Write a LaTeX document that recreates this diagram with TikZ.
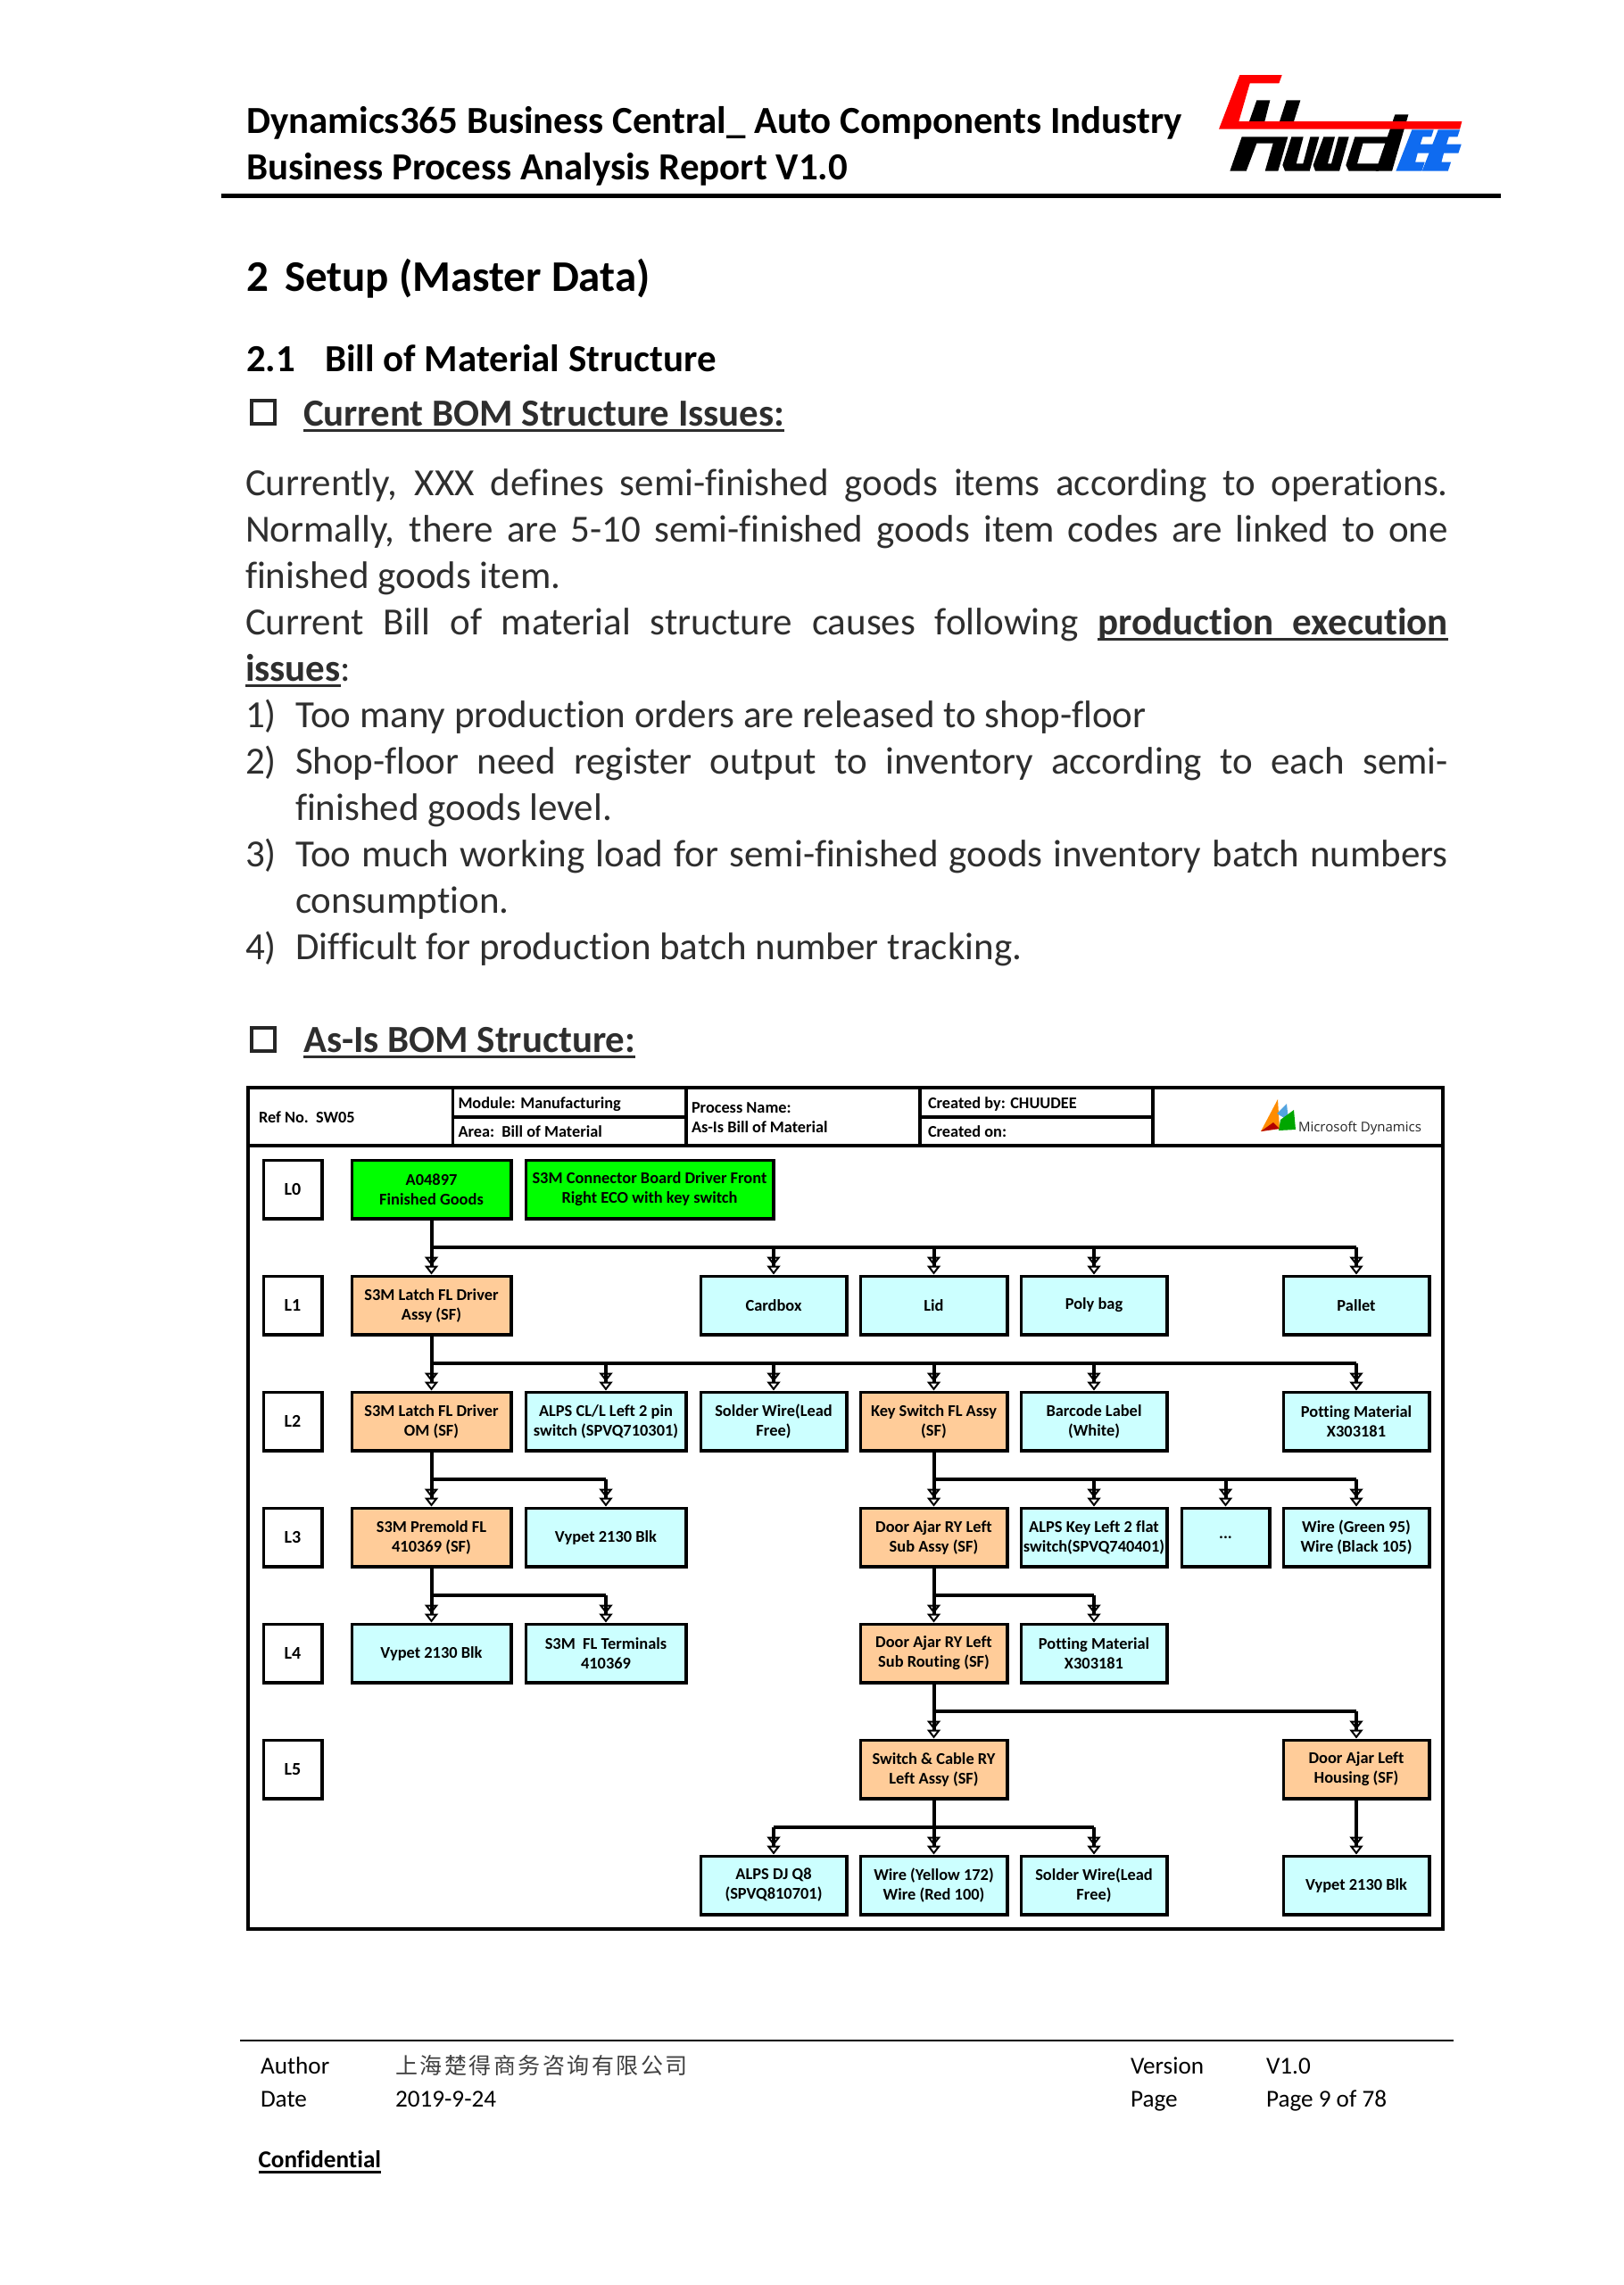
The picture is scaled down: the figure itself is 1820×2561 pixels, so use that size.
\documentclass[tikz,border=0pt]{standalone}
\usepackage{fontspec}
\usepackage{tikz}
\usetikzlibrary{arrows.meta}
\setmainfont[Ligatures={NoCommon}]{Carlito}
\newfontfamily\cjk[LetterSpace=10]{Noto Sans CJK SC}
\newfontfamily\logofont{Open Sans}
\newcommand{\fitline}[2]{\makebox[#1][s]{#2}}
\newcommand{\ulword}[1]{\leavevmode\setbox0\hbox{#1}\rlap{\rule[-3.2pt]{\wd0}{1.5pt}}\box0}
\newcommand{\ulgap}{\leaders\hrule height -1.7pt depth 3.2pt\hskip\fontdimen2\font plus \fontdimen3\font}
\definecolor{fgreen}{HTML}{00FF00}
\definecolor{sforange}{HTML}{FFCC99}
\definecolor{rawcyan}{HTML}{CCFFFF}
\definecolor{logoblue}{HTML}{0F6BF0}
\tikzset{
    textline/.style={anchor=base west, inner sep=0pt, outer sep=0pt},
    bodyline/.style={textline, text=black!82, font=\fontsize{21.5}{26}\selectfont},
    headline/.style={textline, font=\fontsize{21.45}{26}\bfseries\selectfont},
    footline/.style={textline, font=\fontsize{13.6}{16}\selectfont},
    cell/.style={textline, anchor=base west, font=\fontsize{9.15}{11}\bfseries\selectfont},
    chkbox/.style={draw=black!85, line width=2pt, minimum size=13pt, inner sep=0pt},
    block/.style={draw, line width=1.75pt, inner sep=0pt, align=center, minimum height=32.75pt,
        font=\fontsize{9.2}{11}\bfseries\selectfont},
    wd/.style={minimum width=#1*0.5pt-0.25pt},
    level/.style={block, fill=white, wd=66, font=\fontsize{10}{11}\bfseries\selectfont},
    fg/.style={block, fill=fgreen},
    sf/.style={block, fill=sforange},
    raw/.style={block, fill=rawcyan},
    rail/.style={line width=1.75pt},
    stem/.style={line width=2pt},
    branch/.style={stem, -{Triangle[open, length=5pt, width=7.5pt, line width=1pt]
        Triangle[open, length=5pt, width=7.5pt, line width=1pt]}},
    frameline/.style={line width=1.75pt},
}

\begin{document}
\begin{tikzpicture}[x=0.5pt, y=-0.5pt]
    \useasboundingbox[fill=white] (0,0) rectangle (1820,2561);

    % Page header
    \node[headline] (title1) at (276,149.5) {Dynamics365 Business Central\_ Auto Components Industry};
    \node[headline] (title2) at (276,201.5) {Business Process Analysis Report V1.0};
    \draw[line width=2.5pt] (248,219) -- (1682,219);

    % Company logo
    \begin{scope}[shift={(1350,70)}, x=0.1667pt, y=-0.1667pt]
        \fill (175,127) -- (220,127) -- (202,198) -- (150,198) -- cycle;
        \fill (275,127) -- (322,127) -- (300,198) -- (252,198) -- cycle;
        \fill (125,250) -- (280,250) -- (247,365) -- (203,365) -- (230,272) -- (175,272) -- (140,365) -- (85,365) -- cycle;
        \fill (292,250) -- (332,250) -- (308,340) -- (331,340) -- (355,250) -- (385,250)
            -- (353,365) -- (270,365) -- (262,345) -- cycle;
        \fill (400,250) -- (438,250) -- (414,340) -- (426,340) -- (450,250) -- (485,250)
            -- (453,365) -- (372,365) -- (365,345) -- cycle;
        \fill (505,250) -- (620,250) -- (614,272) -- (532,272) -- (513,340) -- (590,340)
            -- (584,365) -- (485,365) -- (475,345) -- cycle;
        \fill (640,175) -- (685,175) -- (630,365) -- (575,365) -- cycle;
        \foreach \dx in {0,88} {
            \fill[logoblue, xshift=\dx*0.1667pt] (697,226) -- (770,226) -- (762,250) -- (733,250) -- (725,275)
                -- (775,275) -- (765,305) -- (716,305) -- (708,335) -- (740,335) -- (730,365) -- (643,365) -- cycle;
        }
        \fill[red] (118,42) -- (260,42) -- (250,70) -- (152,70) -- (115,198) -- (865,198)
            -- (858,224) -- (48,224) -- cycle;
    \end{scope}

    % Headings
    \node[textline, font=\fontsize{24.5}{28}\bfseries\selectfont] (secnum) at (276,326) {2};
    \node[textline, font=\fontsize{24.5}{28}\bfseries\selectfont] (sectitle) at (319,326) {Setup (Master Data)};
    \node[textline, font=\fontsize{21.45}{26}\bfseries\selectfont] (subnum) at (276,416.5) {2.1};
    \node[textline, font=\fontsize{21.45}{26}\bfseries\selectfont] (subtitle) at (364,416.5) {Bill of Material Structure};
    \node[chkbox] (chkissues) at (295,462) {};
    \node[textline, text=black!82, font=\fontsize{21.45}{26}\bfseries\selectfont] (issues) at (340,477.5) {\ulword{Current BOM Structure Issues:}};

    % Body text
    \node[bodyline] (line1) at (275,555.5) {\fitline{674pt}{Currently, XXX defines semi-finished goods items according to operations.}};
    \node[bodyline] (line2) at (275,607.5) {\fitline{674pt}{Normally, there are 5-10 semi-finished goods item codes are linked to one}};
    \node[bodyline] (line3) at (275,659.5) {finished goods item.};
    \node[bodyline] (line4) at (275,711.5) {\fitline{674pt}{Current Bill of material structure causes following \bfseries\ulword{production}\ulgap\ulword{execution}}};
    \node[bodyline] (line5) at (275,763.5) {\textbf{\ulword{issues}}:};
    \node[bodyline] (num1) at (275,815.5) {1)};
    \node[bodyline] (item1) at (331,815.5) {Too many production orders are released to shop-floor};
    \node[bodyline] (num2) at (275,867.5) {2)};
    \node[bodyline] (item2) at (331,867.5) {\fitline{646pt}{Shop-floor need register output to inventory according to each semi-}};
    \node[bodyline] (item2b) at (331,919.5) {finished goods level.};
    \node[bodyline] (num3) at (275,971.5) {3)};
    \node[bodyline] (item3) at (331,971.5) {\fitline{646pt}{Too much working load for semi-finished goods inventory batch numbers}};
    \node[bodyline] (item3b) at (331,1023.5) {consumption.};
    \node[bodyline] (num4) at (275,1075.5) {4)};
    \node[bodyline] (item4) at (331,1075.5) {Difficult for production batch number tracking.};
    \node[chkbox] (chkasis) at (295,1165) {};
    \node[textline, text=black!82, font=\fontsize{21.45}{26}\bfseries\selectfont] (asis) at (340,1179.5) {\ulword{As-Is BOM Structure:}};

    % Frame and title block of the chart
    \draw[frameline] (278,1219) rectangle (1617,2162);
    \draw[frameline] (278,1284) -- (1617,1284);
    \draw[frameline] (507.5,1219) -- (507.5,1284);
    \draw[frameline] (769,1219) -- (769,1284);
    \draw[frameline] (1031,1219) -- (1031,1284);
    \draw[frameline] (1292,1219) -- (1292,1284);
    \draw[frameline] (507.5,1252) -- (769,1252);
    \draw[frameline] (1031,1252) -- (1292,1252);
    \node[cell] (refno) at (290,1258.5) {Ref No.\ \ SW05};
    \node[cell] (module) at (513.5,1242.5) {Module: Manufacturing};
    \node[cell] (area) at (513.5,1274.5) {Area:\ \ Bill of Material};
    \node[cell] (procname) at (775,1247) {Process Name:};
    \node[cell] (procvalue) at (775,1269.5) {As-Is Bill of Material};
    \node[cell] (createdby) at (1040,1242.5) {Created by: CHUUDEE};
    \node[cell] (createdon) at (1040,1274.5) {Created on:};

    % Dynamics logo
    \fill[orange!90!yellow] (1413,1268) -- (1432,1232) -- (1434,1265) -- cycle;
    \fill[cyan!70!blue!70] (1431,1248) -- (1442,1237) -- (1444,1256) -- cycle;
    \fill[green!65!black] (1435,1255) -- (1450,1244) -- (1452,1266) -- (1433,1267) -- cycle;
    \fill[red!70!black] (1413,1268) -- (1427,1258) -- (1434,1265) -- cycle;
    \node[textline, text=black!85, font=\logofont\fontsize{7.5}{10}\selectfont] (dynamics) at (1455,1268) {Microsoft Dynamics};

    % Levels
    \node[level] (L0) at (328,1333) {L0};
    \node[level] (L1) at (328,1463) {L1};
    \node[level] (L2) at (328,1593) {L2};
    \node[level] (L3) at (328,1723) {L3};
    \node[level] (L4) at (328,1853) {L4};
    \node[level] (L5) at (328,1983) {L5};

    % L0 items
    \node[fg, wd=179] (finished) at (483.5,1333) {A04897\\Finished Goods};
    \node[fg, wd=278] (connector) at (728,1333) {S3M Connector Board Driver Front\\Right ECO with key switch};

    % L1 items
    \node[sf, wd=179] (latchassy) at (483.5,1463) {S3M Latch FL Driver\\Assy (SF)};
    \node[raw, wd=164] (cardbox) at (867,1463) {Cardbox};
    \node[raw, wd=165] (lid) at (1046.5,1463) {Lid};
    \node[raw, wd=164] (polybag) at (1226,1463) {Poly bag};
    \node[raw, wd=164] (pallet) at (1520,1463) {Pallet};

    % L2 items
    \node[sf, wd=179] (latchom) at (483.5,1593) {S3M Latch FL Driver\\OM (SF)};
    \node[raw, wd=180] (alpscl) at (679,1593) {ALPS CL/L Left 2 pin\\switch (SPVQ710301)};
    \node[raw, wd=164] (solderA) at (867,1593) {Solder Wire(Lead\\Free)};
    \node[sf, wd=165] (keyswitch) at (1046.5,1593) {Key Switch FL Assy\\(SF)};
    \node[raw, wd=164] (barcode) at (1226,1593) {Barcode Label\\(White)};
    \node[raw, wd=164] (pottingA) at (1520,1593) {Potting Material\\X303181};

    % L3 items
    \node[sf, wd=179] (premold) at (483.5,1723) {S3M Premold FL\\410369 (SF)};
    \node[raw, wd=180] (vypetA) at (679,1723) {Vypet 2130 Blk};
    \node[sf, wd=165] (doorassy) at (1046.5,1723) {Door Ajar RY Left\\Sub Assy (SF)};
    \node[raw, wd=164] (alpskey) at (1226,1723) {ALPS Key Left 2 flat\\switch(SPVQ740401)};
    \node[raw, wd=99] (dots) at (1373.5,1723) {...};
    \node[raw, wd=164] (wiregreen) at (1520,1723) {Wire (Green 95)\\Wire (Black 105)};

    % L4 items
    \node[raw, wd=179] (vypetB) at (483.5,1853) {Vypet 2130 Blk};
    \node[raw, wd=180] (terminals) at (679,1853) {S3M\ \ FL Terminals\\410369};
    \node[sf, wd=165] (doorrouting) at (1046.5,1853) {Door Ajar RY Left\\Sub Routing (SF)};
    \node[raw, wd=164] (pottingB) at (1226,1853) {Potting Material\\X303181};

    % L5 items
    \node[sf, wd=165] (switchcable) at (1046.5,1983) {Switch \& Cable RY\\Left Assy (SF)};
    \node[sf, wd=164] (housing) at (1520,1983) {Door Ajar Left\\Housing (SF)};

    % Bottom row
    \node[raw, wd=164] (alpsdj) at (867,2113) {ALPS DJ Q8\\(SPVQ810701)};
    \node[raw, wd=165] (wireyellow) at (1046.5,2113) {Wire (Yellow 172)\\Wire (Red 100)};
    \node[raw, wd=164] (solderB) at (1226,2113) {Solder Wire(Lead\\Free)};
    \node[raw, wd=164] (vypetC) at (1520,2113) {Vypet 2130 Blk};

    % Connectors, rail 15.25pt above the child
    \foreach \parent/\child in {finished/latchassy, finished/cardbox, finished/lid, finished/polybag, finished/pallet,
        latchassy/latchom, latchassy/alpscl, latchassy/solderA, latchassy/keyswitch, latchassy/barcode, latchassy/pottingA,
        latchom/premold, latchom/vypetA, keyswitch/doorassy, keyswitch/alpskey, keyswitch/dots, keyswitch/wiregreen,
        premold/vypetB, premold/terminals, doorassy/doorrouting, doorassy/pottingB,
        doorrouting/switchcable, doorrouting/housing, switchcable/alpsdj, switchcable/wireyellow, switchcable/solderB,
        housing/vypetC} {
        \coordinate (railend) at ([yshift=15.25pt]\child.north);
        \draw[rail] (\parent.south |- railend) -- (railend);
        \draw[stem] (\parent.south) -- (\parent.south |- railend);
        \draw[branch] (railend) -- (\child.north);
    }

    % Page footer
    \draw[line width=1.25pt] (269,2287) -- (1629,2287);
    \node[footline] (author) at (292,2324.5) {Author};
    \node[footline, text=black!75, font=\cjk\fontsize{12.5}{16}\selectfont] (company) at (443,2324.5) {上海楚得商务咨询有限公司};
    \node[footline] (version) at (1267,2324.5) {Version};
    \node[footline] (versionno) at (1419,2324.5) {V1.0};
    \node[footline] (date) at (292,2361.5) {Date};
    \node[footline] (dateval) at (443,2361.5) {2019-9-24};
    \node[footline] (page) at (1267,2361.5) {Page};
    \node[footline] (pageno) at (1419,2361.5) {Page 9 of 78};
    \node[footline, font=\fontsize{13.6}{16}\bfseries\selectfont] (confidential) at (289.5,2429.5) {\ulword{Confidential}};
\end{tikzpicture}
\end{document}
